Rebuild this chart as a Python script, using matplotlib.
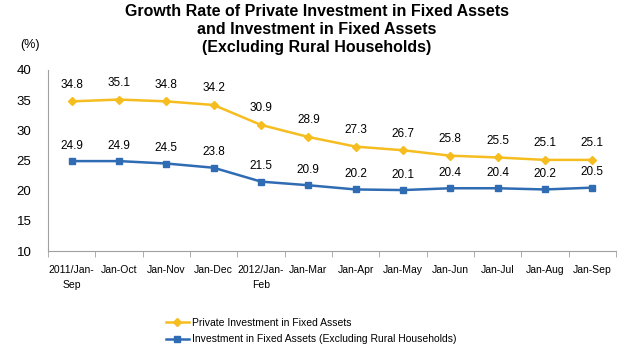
import numpy as np
import matplotlib.pyplot as plt

plt.rcParams['font.family'] = ['Liberation Sans', 'DejaVu Sans']

categories = ["2011/Jan-\nSep", "Jan-Oct", "Jan-Nov", "Jan-Dec", "2012/Jan-\nFeb", "Jan-Mar",
              "Jan-Apr", "Jan-May", "Jan-Jun", "Jan-Jul", "Jan-Aug", "Jan-Sep"]
private_inv = [34.8, 35.1, 34.8, 34.2, 30.9, 28.9, 27.3, 26.7, 25.8, 25.5, 25.1, 25.1]
total_inv = [24.9, 24.9, 24.5, 23.8, 21.5, 20.9, 20.2, 20.1, 20.4, 20.4, 20.2, 20.5]

yellow = '#F5BD1F'
blue = '#2F6CB3'

fig = plt.figure(figsize=(6.34, 3.54), dpi=100)
ax = fig.add_axes([48 / 634, 1 - 251 / 354, 568 / 634, 181 / 354])

x = np.arange(len(categories))
ax.plot(x, private_inv, color=yellow, lw=1.8, marker='D', ms=4.5,
        label='Private Investment in Fixed Assets')
ax.plot(x, total_inv, color=blue, lw=1.8, marker='s', ms=4.5,
        label='Investment in Fixed Assets (Excluding Rural Households)')

for xi, v in zip(x, private_inv):
    ax.annotate(f"{v:.1f}", (xi, v), xytext=(0, 12), textcoords='offset points',
                ha='center', va='center', fontsize=8.5)
for xi, v in zip(x, total_inv):
    ax.annotate(f"{v:.1f}", (xi, v), xytext=(0, 11), textcoords='offset points',
                ha='center', va='center', fontsize=8.5)

ax.set_xlim(-0.5, len(categories) - 0.5)
ax.set_ylim(10, 40)
ax.set_yticks(range(10, 41, 5))
ax.tick_params(axis='y', labelsize=9.5, length=0, pad=12)

ax.set_xticks(x)
ax.set_xticklabels(categories, fontsize=7.5, linespacing=1.6)
ax.tick_params(axis='x', length=0, pad=10)
ax.set_xticks(np.arange(-0.5, len(categories)), minor=True)
ax.tick_params(axis='x', which='minor', length=4, color='#A0A0A0')

for s in ['top', 'right']:
    ax.spines[s].set_visible(False)
for s in ['left', 'bottom']:
    ax.spines[s].set_color('#A0A0A0')
    ax.spines[s].set_linewidth(0.8)

fig.text(0.5, 0.99, "Growth Rate of Private Investment in Fixed Assets\nand Investment in Fixed Assets\n(Excluding Rural Households)",
         ha='center', va='top', fontsize=11.5, fontweight='bold', linespacing=1.25)
fig.text(20 / 634, 1 - 45 / 354, "(%)", ha='left', va='center', fontsize=9)

fig.legend(loc='upper left', bbox_to_anchor=(166 / 634, 1 - 318 / 354), frameon=False,
           fontsize=7.5, handlelength=2.2, handletextpad=0.3, labelspacing=0.6,
           borderaxespad=0, borderpad=0)

fig.savefig('out.png', dpi=100)
